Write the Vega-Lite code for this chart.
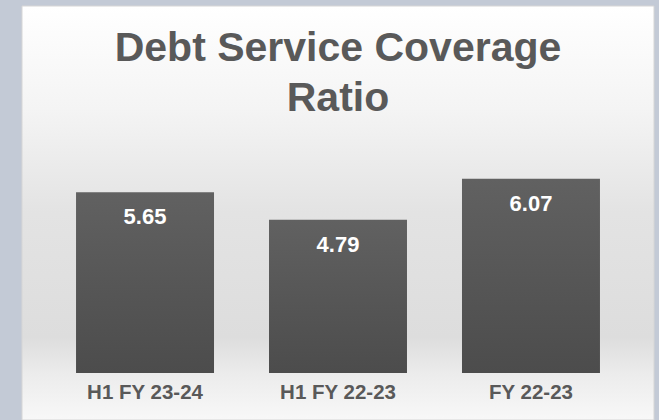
{
  "$schema": "https://vega.github.io/schema/vega-lite/v6.json",
  "width": 632,
  "height": 414,
  "autosize": {"type": "none"},
  "padding": {"left": 22, "top": 6, "right": 5, "bottom": 0},
  "background": "#c3cad6",
  "config": {"view": {"stroke": null}, "font": "Liberation Sans"},
  "title": {
    "text": ["Debt Service Coverage", "Ratio"],
    "fontSize": 41,
    "lineHeight": 50,
    "font": "Liberation Sans",
    "fontWeight": "bold",
    "color": "#595959",
    "anchor": "middle",
    "frame": "group",
    "baseline": "bottom",
    "offset": -155
  },
  "layer": [
    {
      "data": {"values": [{"panel": "bg"}]},
      "mark": {
        "type": "rect",
        "stroke": "#d6d6d6",
        "strokeWidth": 1,
        "color": {
          "gradient": "linear",
          "x1": 0, "y1": 0, "x2": 0, "y2": 1,
          "stops": [
            {"offset": 0, "color": "#ffffff"},
            {"offset": 0.25, "color": "#f4f4f4"},
            {"offset": 0.5, "color": "#e3e3e3"},
            {"offset": 0.8, "color": "#dddddd"},
            {"offset": 0.89, "color": "#ececec"},
            {"offset": 1, "color": "#f8f8f8"}
          ]
        }
      },
      "encoding": {}
    },
    {
      "data": {"values": [
        {"period": "H1 FY 23-24", "dscr": 5.65},
        {"period": "H1 FY 22-23", "dscr": 4.79},
        {"period": "FY 22-23", "dscr": 6.07}
      ]},
      "encoding": {
        "x": {
          "field": "period",
          "type": "nominal",
          "sort": null,
          "scale": {"paddingInner": 0.285, "paddingOuter": 0.28},
          "axis": {
            "title": null,
            "domain": false,
            "ticks": false,
            "grid": false,
            "labelAngle": 0,
            "offset": -47,
            "labelPadding": 9,
            "labelFont": "Liberation Sans",
            "labelFontSize": 20.5,
            "labelFontWeight": "bold",
            "labelColor": "#595959",
            "zindex": 1
          }
        },
        "y": {
          "field": "dscr",
          "type": "quantitative",
          "scale": {"domain": [-1.46875, 11.46875], "nice": false, "zero": false},
          "axis": null
        }
      },
      "layer": [
        {
          "mark": {
            "type": "bar",
            "color": {
              "gradient": "linear",
              "x1": 0, "y1": 0, "x2": 0, "y2": 1,
              "stops": [
                {"offset": 0, "color": "#616161"},
                {"offset": 1, "color": "#4c4c4c"}
              ]
            }
          },
          "encoding": {"y2": {"datum": 0}}
        },
        {
          "mark": {
            "type": "text",
            "baseline": "alphabetic",
            "dy": 32,
            "fontSize": 22,
            "fontWeight": "bold",
            "font": "Liberation Sans",
            "color": "#ffffff"
          },
          "encoding": {"text": {"field": "dscr", "type": "quantitative", "format": ".2f"}}
        }
      ]
    }
  ]
}
